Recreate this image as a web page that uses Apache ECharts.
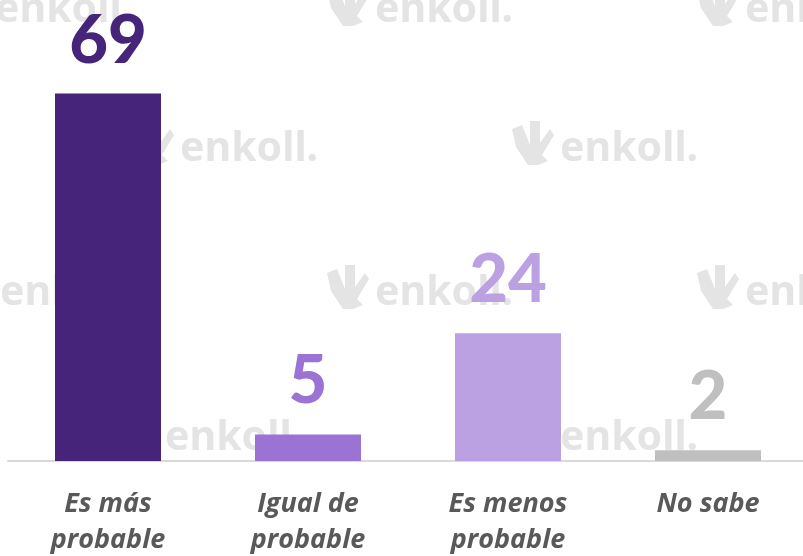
<!DOCTYPE html>
<html>
<head>
<meta charset="utf-8">
<script src="https://cdn.jsdelivr.net/npm/echarts@6/dist/echarts.min.js"></script>
<style>
    html, body {margin: 0; padding: 0; background: #fff;}
    #chart {width: 803px; height: 556px;}
</style>
</head>
<body>
<div id="chart"></div>
<script>
var categories = ['Es más\nprobable', 'Igual de\nprobable', 'Es menos\nprobable', 'No sabe'];
var values = [69, 5, 24, 2];
var barColors = ['#45247a', '#9a73d5', '#bba1e2', '#bfbfbf'];

// watermark rows: [x of text start, baseline y]
var marks = [
    [-5, 24], [375, 24], [745, 24],
    [180, 163], [560, 163],
    [0, 307], [375, 307], [745, 307],
    [165, 452], [560, 452]
];

var wmColor = '#e4e4e4';
var graphics = [];
marks.forEach(function (m) {
    graphics.push({
        type: 'text',
        left: m[0], top: m[1] - 34,
        z: -10,
        style: {
            text: 'enkoll.',
            fill: wmColor,
            font: 'bold 41px "Noto Sans"'
        }
    });
    graphics.push({
        type: 'polygon',
        x: m[0] - 52, y: m[1] - 42,
        z: -10,
        shape: {points: [[4, 8], [14, 4], [22, 24], [22, 0], [32, 0], [32, 22], [42, 8], [46, 14], [34, 34], [40, 40], [30, 44], [20, 44], [8, 26]]},
        style: {fill: wmColor}
    });
});

var chart = echarts.init(document.getElementById('chart'));

var option = {
    backgroundColor: '#fff',
    animation: false,
    graphic: graphics,
    grid: {
        left: 8,
        right: -5,
        top: 35,
        bottom: 95,
        outerBoundsMode: 'none',
        containLabel: false
    },
    xAxis: {
        type: 'category',
        data: categories,
        axisTick: {show: false},
        axisLine: {lineStyle: {color: '#d9d9d9', width: 2}},
        axisLabel: {
            interval: 0,
            margin: 25,
            color: '#595959',
            fontFamily: 'Open Sans',
            fontWeight: 'bold',
            fontStyle: 'italic',
            fontSize: 27,
            lineHeight: 36,
            verticalAlign: 'top'
        }
    },
    yAxis: {
        type: 'value',
        min: 0,
        max: 80,
        show: false,
        splitLine: {show: false}
    },
    series: [{
        type: 'bar',
        barWidth: 106,
        data: values.map(function (v, i) {
            return {
                value: v,
                itemStyle: {color: barColors[i]},
                label: {color: barColors[i]}
            };
        }),
        label: {
            show: true,
            position: 'top',
            distance: 19,
            fontFamily: 'Lato',
            fontWeight: 900,
            fontSize: 67
        }
    }]
};

chart.setOption(option);
</script>
</body>
</html>
